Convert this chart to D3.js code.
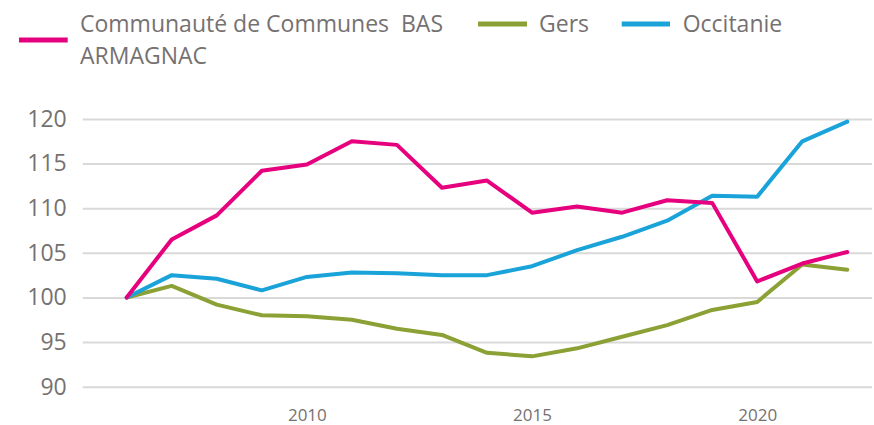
<!DOCTYPE html>
<html>
<head>
<meta charset="utf-8">
<script src="https://cdn.jsdelivr.net/npm/d3@7"></script>
<style>
  body { margin: 0; background: #fff; }
  svg text { font-family: "Open Sans", sans-serif; fill: #767171; }
</style>
</head>
<body>
<script>
// years on the x axis
var years = [2006, 2007, 2008, 2009, 2010, 2011, 2012, 2013, 2014, 2015, 2016, 2017, 2018, 2019, 2020, 2021, 2022];

// index values, base 100 in 2006
var basArmagnac = [100, 106.5, 109.2, 114.2, 114.9, 117.5, 117.1, 112.3, 113.1, 109.5, 110.2, 109.5, 110.9, 110.6, 101.8, 103.8, 105.1];
var gers = [100, 101.3, 99.2, 98.0, 97.9, 97.5, 96.5, 95.8, 93.8, 93.4, 94.3, 95.6, 96.9, 98.6, 99.5, 103.7, 103.1];
var occitanie = [100, 102.5, 102.1, 100.8, 102.3, 102.8, 102.7, 102.5, 102.5, 103.5, 105.3, 106.8, 108.6, 111.4, 111.3, 117.5, 119.7];

var seriesNames = ["Communauté de Communes  BAS", "Gers", "Occitanie"];
var yTicks = [90, 95, 100, 105, 110, 115, 120];
var xTicks = [2010, 2015, 2020];

var colors = ["#E6007E", "#8BA135", "#1AA3D9"];

var width = 874, height = 425;

var svg = d3.select("body").append("svg")
  .attr("width", width)
  .attr("height", height);

// scales
var x = d3.scaleLinear().domain([2006, 2022]).range([126.7, 847.3]);
var y = d3.scaleLinear().domain([90, 120]).range([386.7, 119]);

var gridLeft = 82.7, gridRight = 872;

// y axis with gridlines
var yAxis = svg.append("g")
  .attr("transform", "translate(" + gridLeft + ",0)")
  .call(d3.axisLeft(y).tickValues(yTicks).tickSize(-(gridRight - gridLeft)).tickPadding(16));
yAxis.select(".domain").remove();
yAxis.selectAll("line").attr("stroke", "#d9d9d9").attr("stroke-width", 2);
yAxis.selectAll("text").style("font-size", "23px");

// x axis, labels only
var xAxis = svg.append("g")
  .attr("transform", "translate(0," + y(90) + ")")
  .call(d3.axisBottom(x).tickValues(xTicks).tickFormat(d3.format("d")).tickSize(0).tickPadding(22));
xAxis.select(".domain").remove();
xAxis.selectAll("text").style("font-size", "17px");

// lines
var line = d3.line()
  .x(function(d, i) { return x(years[i]); })
  .y(function(d) { return y(d); });

var allSeries = [basArmagnac, gers, occitanie];
var drawOrder = [1, 2, 0];
drawOrder.forEach(function(k) {
  svg.append("path")
    .datum(allSeries[k])
    .attr("d", line)
    .attr("fill", "none")
    .attr("stroke", colors[k])
    .attr("stroke-width", 4)
    .attr("stroke-linejoin", "round")
    .attr("stroke-linecap", "round");
});

// legend
var legend = svg.append("g").attr("class", "legend")
  .style("font-size", "23px");

legend.append("line")
  .attr("x1", 19).attr("x2", 67.7).attr("y1", 40).attr("y2", 40)
  .attr("stroke", colors[0]).attr("stroke-width", 5);
legend.append("text")
  .attr("x", 80).attr("y", 31.5)
  .style("white-space", "pre")
  .text(seriesNames[0]);
legend.append("text")
  .attr("x", 80).attr("y", 63.5)
  .text("ARMAGNAC");

legend.append("line")
  .attr("x1", 478).attr("x2", 527).attr("y1", 24).attr("y2", 24)
  .attr("stroke", colors[1]).attr("stroke-width", 5);
legend.append("text")
  .attr("x", 539).attr("y", 31.5)
  .text(seriesNames[1]);

legend.append("line")
  .attr("x1", 621.7).attr("x2", 670).attr("y1", 24).attr("y2", 24)
  .attr("stroke", colors[2]).attr("stroke-width", 5);
legend.append("text")
  .attr("x", 682.7).attr("y", 31.5)
  .text(seriesNames[2]);
</script>
</body>
</html>
